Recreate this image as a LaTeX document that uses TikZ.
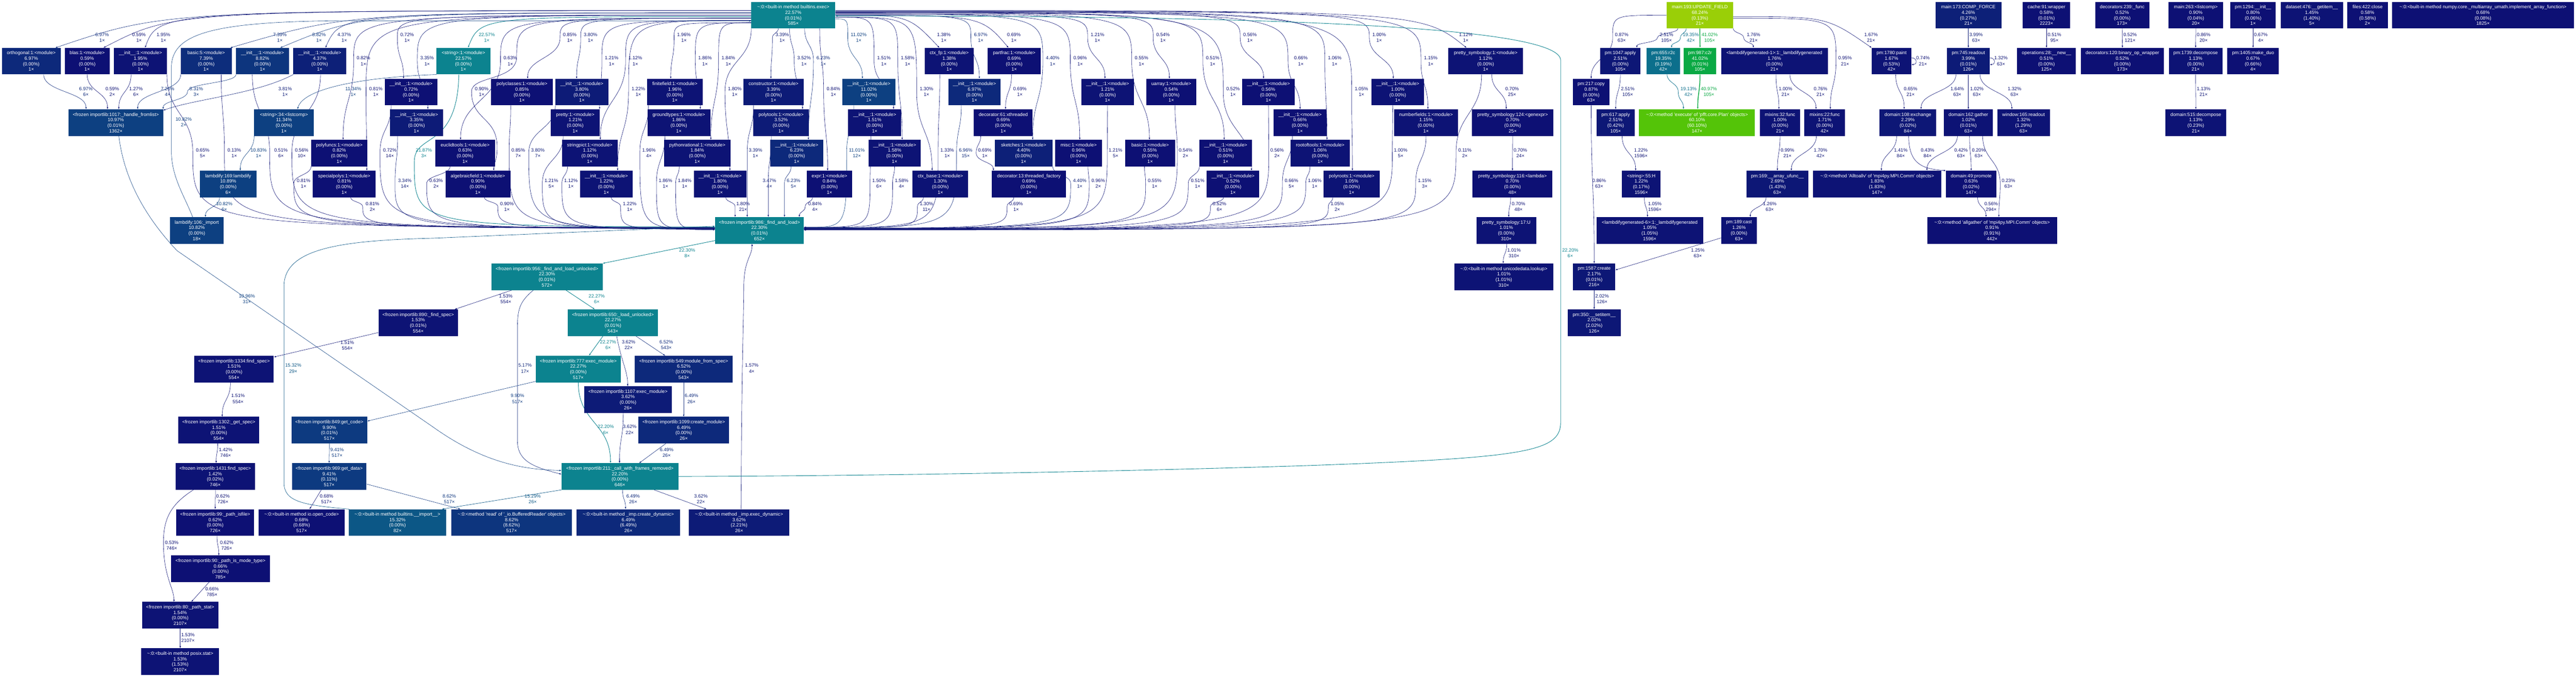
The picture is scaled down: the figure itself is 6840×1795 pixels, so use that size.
\documentclass[tikz,border=0pt]{standalone}
\usepackage{fontspec}
\newfontfamily\gv{Liberation Sans}
\usetikzlibrary{arrows.meta}
\pgfdeclarelayer{bg}\pgfdeclarelayer{edges}\pgfsetlayers{bg,edges,main}
\definecolor{c0}{HTML}{0D1074}
\definecolor{c1}{HTML}{0D1375}
\definecolor{c2}{HTML}{0D1776}
\definecolor{c3}{HTML}{0D1B77}
\definecolor{c4}{HTML}{0D2078}
\definecolor{c5}{HTML}{0D2479}
\definecolor{c6}{HTML}{0D297B}
\definecolor{c7}{HTML}{0D2D7C}
\definecolor{c8}{HTML}{0D357E}
\definecolor{c9}{HTML}{0D3A80}
\definecolor{c11}{HTML}{0D4081}
\definecolor{c15}{HTML}{0C5786}
\definecolor{c19}{HTML}{0C6F8C}
\definecolor{c22}{HTML}{0C838F}
\definecolor{c41}{HTML}{0AA944}
\definecolor{c60}{HTML}{54C408}
\definecolor{c68}{HTML}{9ACF07}
\tikzset{
 ed/.style={draw=#1,line width=.8pt,-{Latex[length=5.5pt,width=4pt]}},
 tl/.style={ed=c22,line width=1.2pt},
 nd/.style={rectangle,inner sep=0pt,minimum height=70.5pt,text=white,align=center,font=\gv\fontsize{12.6}{14.6}\selectfont},
 lbl/.style={inner sep=0pt,align=center,anchor=west,font=\gv\fontsize{12.6}{15.5}\selectfont},
}
\newcommand\tz{\textasciitilde:0:}
\newcommand\ini{\_\_init\_\_:1:<module>}
\newcommand\frz{<frozen importlib:}
\newcount\labn
\newcommand\Nd[9]{\node[nd,fill=#5,minimum width={(#3-#2)*1pt}] (#1) at ({(#2+#3)/2},{#4+35.25}) {#6\\#7\%\\(#8\%)\\#9×};}
\newcommand\lab[5]{\global\advance\labn by 1\relax\node[lbl,text=#1] (lb\the\labn) at (#2,#3) {#4\%\\#5×};}
% direct S edge
\newcommand\Ed[3]{\coordinate (s) at (#2); \coordinate (t) at (#3);
 \path (s) -- (t) coordinate[pos=.5] (m);
 \draw[#1] (#2) .. controls (s |- m) and (t |- m) .. (#3);}
% S edge through a waypoint
\newcommand\Ew[5]{\coordinate (s) at (#2); \coordinate (w) at (#3,#4); \coordinate (t) at (#5);
 \path (s) -- (w) coordinate[pos=.5] (m1);
 \path (w) -- (t) coordinate[pos=.5] (m2);
 \draw[#1] (#2) .. controls (s |- m1) and (w |- m1) .. (w) .. controls (w |- m2) and (t |- m2) .. (#5);}
% horizontal start, corner to waypoint, then S
\newcommand\Eh[5]{\coordinate (s) at (#2); \coordinate (w) at (#3,#4); \coordinate (t) at (#5);
 \path (w) -- (t) coordinate[pos=.5] (m2);
 \draw[#1] (#2) .. controls (w |- s) and (w |- s) .. (w) .. controls (w |- m2) and (t |- m2) .. (#5);}
% single swoop
\newcommand\Es[5]{\draw[#1] (#2) .. controls (#3,#4) and (#3,#4) .. (#5);}
% S to waypoint then corner into a side
\newcommand\Ef[5]{\coordinate (s) at (#2); \coordinate (w) at (#3,#4); \coordinate (t) at (#5);
 \path (s) -- (w) coordinate[pos=.5] (m1);
 \draw[#1] (#2) .. controls (s |- m1) and (w |- m1) .. (w) .. controls (w |- t) and (w |- t) .. (#5);}
\begin{document}
\begin{tikzpicture}[x=1pt,y=-1pt]
\begin{pgfonlayer}{bg}\fill[white] (0,0) rectangle (6840,1795);\end{pgfonlayer}
\useasboundingbox (0,0) rectangle (6840,1795);
% ---------- row 0
\Nd{exec}{1995}{2218}{5}{c22}{\tz<built-in method builtins.exec>}{22.57}{0.01}{585}
\Nd{upd}{4425}{4602}{5}{c68}{main:193:UPDATE\_FIELD}{68.24}{0.13}{21}
\Nd{comp}{5139}{5314}{5}{c4}{main:173:COMP\_FORCE}{4.26}{0.27}{21}
\Nd{cache}{5371}{5497}{5}{c0}{cache:91:wrapper}{0.58}{0.01}{2223}
\Nd{dfunc}{5563}{5707}{5}{c0}{decorators:239:\_func}{0.52}{0.00}{173}
\Nd{lcomp}{5758}{5903}{5}{c0}{main:263:<listcomp>}{0.90}{0.04}{20}
\Nd{pminit}{5922}{6043}{5}{c0}{pm:1294:\_\_init\_\_}{0.80}{0.06}{1}
\Nd{dset}{6056}{6221}{5}{c1}{dataset:476:\_\_getitem\_\_}{1.45}{1.40}{5}
\Nd{fclose}{6233}{6340}{5}{c0}{files:422:close}{0.58}{0.58}{2}
\Nd{iaf}{6352}{6834}{5}{c0}{\tz<built-in method numpy.core.\_multiarray\_umath.implement\_array\_function>}{0.68}{0.08}{1825}
% ---------- row 1
\Nd{ortho}{5}{161}{127}{c6}{orthogonal:1:<module>}{6.97}{0.00}{1}
\Nd{blas}{172}{291}{127}{c0}{blas:1:<module>}{0.59}{0.00}{1}
\Nd{ini195}{303}{443}{127}{c1}{\ini}{1.95}{0.00}{1}
\Nd{basic5}{480}{615}{127}{c7}{basic:5:<module>}{7.39}{0.00}{1}
\Nd{ini882}{627}{767}{127}{c8}{\ini}{8.82}{0.00}{1}
\Nd{ini437}{779}{919}{127}{c4}{\ini}{4.37}{0.00}{1}
\Nd{str1}{1159}{1302}{127}{c22}{<string>:1:<module>}{22.57}{0.00}{1}
\Nd{ctxfp}{2455}{2586}{127}{c1}{ctx\_fp:1:<module>}{1.38}{0.00}{1}
\Nd{partfrac}{2623}{2763}{127}{c0}{partfrac:1:<module>}{0.69}{0.00}{1}
\Nd{psym1}{3846}{4044}{127}{c1}{pretty\_symbology:1:<module>}{1.12}{0.00}{1}
\Nd{ap1047}{4249}{4356}{127}{c2}{pm:1047:apply}{2.51}{0.00}{105}
\Nd{r2c}{4372}{4461}{127}{c19}{pm:655:r2c}{19.35}{0.19}{42}
\Nd{c2r}{4471}{4557}{127}{c41}{pm:987:c2r}{41.02}{0.01}{105}
\Nd{lg1}{4570}{4853}{127}{c1}{<lambdifygenerated-1>:1:\_lambdifygenerated}{1.76}{0.00}{21}
\Nd{paint}{4970}{5075}{127}{c1}{pm:1780:paint}{1.67}{0.53}{42}
\Nd{readout}{5170}{5283}{127}{c3}{pm:745:readout}{3.99}{0.01}{126}
\Nd{opnew}{5356}{5512}{127}{c0}{operations:28:\_\_new\_\_}{0.51}{0.00}{125}
\Nd{bopw}{5525}{5746}{127}{c0}{decorators:120:binary\_op\_wrapper}{0.52}{0.00}{173}
\Nd{dec1739}{5759}{5901}{127}{c1}{pm:1739:decompose}{1.13}{0.00}{21}
\Nd{duo}{5914}{6051}{127}{c0}{pm:1405:make\_duo}{0.67}{0.66}{4}
% ---------- row 2
\Nd{ini072}{1022}{1161}{209}{c0}{\ini}{0.72}{0.00}{1}
\Nd{polycl}{1304}{1468}{209}{c0}{polyclasses:1:<module>}{0.85}{0.00}{1}
\Nd{ini380}{1475}{1615}{209}{c3}{\ini}{3.80}{0.00}{1}
\Nd{finf}{1718}{1866}{209}{c1}{finitefield:1:<module>}{1.96}{0.00}{1}
\Nd{constr}{1974}{2134}{209}{c3}{constructor:1:<module>}{3.39}{0.00}{1}
\Nd{ini1102}{2237}{2377}{209}{c11}{\ini}{11.02}{0.00}{1}
\Nd{ini697}{2518}{2657}{209}{c6}{\ini}{6.97}{0.00}{1}
\Nd{ini121b}{2871}{3011}{209}{c1}{\ini}{1.21}{0.00}{1}
\Nd{uarray}{3044}{3176}{209}{c0}{uarray:1:<module>}{0.54}{0.00}{1}
\Nd{ini056}{3298}{3438}{209}{c0}{\ini}{0.56}{0.00}{1}
\Nd{ini100}{3642}{3781}{209}{c1}{\ini}{1.00}{0.00}{1}
\Nd{copy217}{4176}{4274}{209}{c0}{pm:217:copy}{0.87}{0.00}{63}
% ---------- row 3
\Nd{hfl}{182}{433}{290}{c11}{\frz1017:\_handle\_fromlist>}{10.97}{0.01}{1362}
\Nd{lc34}{675}{833}{290}{c11}{<string>:34:<listcomp>}{11.34}{0.00}{1}
\Nd{ini335}{1036}{1176}{290}{c3}{\ini}{3.35}{0.00}{1}
\Nd{pretty}{1463}{1592}{290}{c1}{pretty:1:<module>}{1.21}{0.00}{1}
\Nd{groundt}{1719}{1886}{290}{c1}{groundtypes:1:<module>}{1.86}{0.00}{1}
\Nd{polyt}{2000}{2148}{290}{c3}{polytools:1:<module>}{3.52}{0.00}{1}
\Nd{ini151}{2252}{2393}{290}{c1}{\ini}{1.51}{0.00}{1}
\Nd{xthr}{2586}{2742}{290}{c0}{decorator:61:xthreaded}{0.69}{0.00}{1}
\Nd{ini066}{3382}{3522}{290}{c0}{\ini}{0.66}{0.00}{1}
\Nd{numf}{3702}{3871}{290}{c1}{numberfields:1:<module>}{1.15}{0.00}{1}
\Nd{genx}{3908}{4125}{290}{c0}{pretty\_symbology:124:<genexpr>}{0.70}{0.00}{25}
\Nd{ap617}{4240}{4340}{290}{c2}{pm:617:apply}{2.51}{0.42}{105}
\Nd{execute}{4352}{4660}{290}{c60}{\tz<method 'execute' of 'pfft.core.Plan' objects>}{60.10}{60.10}{147}
\Nd{mix32}{4673}{4780}{290}{c1}{mixins:32:func}{1.00}{0.00}{21}
\Nd{mix22}{4791}{4899}{290}{c1}{mixins:22:func}{1.71}{0.00}{42}
\Nd{exch}{4991}{5141}{290}{c2}{domain:108:exchange}{2.29}{0.02}{84}
\Nd{gath}{5162}{5291}{290}{c1}{domain:162:gather}{1.02}{0.01}{63}
\Nd{win}{5303}{5443}{290}{c1}{window:165:readout}{1.32}{1.29}{63}
\Nd{d515}{5750}{5911}{290}{c1}{domain:515:decompose}{1.13}{0.23}{21}
% ---------- row 4
\Nd{polyf}{826}{976}{371}{c0}{polyfuncs:1:<module>}{0.82}{0.00}{1}
\Nd{eucl}{1156}{1314}{371}{c0}{euclidtools:1:<module>}{0.63}{0.00}{1}
\Nd{strp}{1492}{1640}{371}{c1}{stringpict:1:<module>}{1.12}{0.00}{1}
\Nd{pyrat}{1763}{1940}{371}{c1}{pythonrational:1:<module>}{1.84}{0.00}{1}
\Nd{ini623}{2045}{2186}{371}{c6}{\ini}{6.23}{0.00}{1}
\Nd{ini158}{2306}{2445}{371}{c1}{\ini}{1.58}{0.00}{1}
\Nd{sketch}{2641}{2795}{371}{c4}{sketches:1:<module>}{4.40}{0.00}{1}
\Nd{misc}{2802}{2926}{371}{c0}{misc:1:<module>}{0.96}{0.00}{1}
\Nd{basic1}{2987}{3121}{371}{c0}{basic:1:<module>}{0.55}{0.00}{1}
\Nd{ini051}{3185}{3324}{371}{c0}{\ini}{0.51}{0.00}{1}
\Nd{rootof}{3427}{3584}{371}{c1}{rootoftools:1:<module>}{1.06}{0.00}{1}
% ---------- row 5
\Nd{lamb169}{531}{681}{453}{c11}{lambdify:169:lambdify}{10.89}{0.00}{6}
\Nd{spoly}{831}{997}{453}{c0}{specialpolys:1:<module>}{0.81}{0.00}{1}
\Nd{algf}{1183}{1355}{453}{c0}{algebraicfield:1:<module>}{0.90}{0.00}{1}
\Nd{ini122}{1540}{1680}{453}{c1}{\ini}{1.22}{0.00}{1}
\Nd{ini180}{1842}{1982}{453}{c1}{\ini}{1.80}{0.00}{1}
\Nd{expr}{2142}{2263}{453}{c0}{expr:1:<module>}{0.84}{0.00}{1}
\Nd{ctxb}{2423}{2571}{453}{c1}{ctx\_base:1:<module>}{1.30}{0.00}{1}
\Nd{thrf}{2634}{2830}{453}{c0}{decorator:13:threaded\_factory}{0.69}{0.00}{1}
\Nd{ini052}{3204}{3344}{453}{c0}{\ini}{0.52}{0.00}{1}
\Nd{proots}{3515}{3663}{453}{c1}{polyroots:1:<module>}{1.05}{0.00}{1}
\Nd{lam116}{3910}{4122}{453}{c0}{pretty\_symbology:116:<lambda>}{0.70}{0.00}{48}
\Nd{strH}{4307}{4409}{453}{c1}{<string>:55:H}{1.22}{0.17}{1596}
\Nd{ufunc}{4637}{4802}{453}{c2}{pm:169:\_\_array\_ufunc\_\_}{2.69}{1.43}{63}
\Nd{a2a}{4814}{5155}{453}{c1}{\tz<method 'Alltoallv' of 'mpi4py.MPI.Comm' objects>}{1.83}{1.83}{147}
\Nd{promote}{5167}{5301}{453}{c0}{domain:49:promote}{0.63}{0.02}{147}
% ---------- row 6
\Nd{imp106}{451}{594}{576}{c11}{lambdify:106:\_import}{10.82}{0.00}{18}
\Nd{fal}{1899}{2134}{576}{c22}{\frz986:\_find\_and\_load>}{22.30}{0.01}{652}
\Nd{symU}{3920}{4079}{576}{c1}{pretty\_symbology:17:U}{1.01}{0.00}{310}
\Nd{lg6}{4239}{4522}{576}{c1}{<lambdifygenerated-6>:1:\_lambdifygenerated}{1.05}{1.05}{1596}
\Nd{cast}{4570}{4665}{576}{c1}{pm:189:cast}{1.26}{0.00}{63}
\Nd{allg}{5117}{5462}{576}{c0}{\tz<method 'allgather' of 'mpi4py.MPI.Comm' objects>}{0.91}{0.91}{442}
% ---------- lower rows
\Nd{falu}{1305}{1600}{699}{c22}{\frz956:\_find\_and\_load\_unlocked>}{22.30}{0.01}{572}
\Nd{ulook}{3862}{4124}{699}{c1}{\tz<built-in method unicodedata.lookup>}{1.01}{1.01}{310}
\Nd{create}{4177}{4289}{699}{c2}{pm:1587:create}{2.17}{0.01}{216}
\Nd{fs890}{1005}{1216}{821}{c1}{\frz890:\_find\_spec>}{1.53}{0.01}{554}
\Nd{lunl}{1508}{1747}{821}{c22}{\frz650:\_load\_unlocked>}{22.27}{0.01}{543}
\Nd{setitem}{4163}{4303}{821}{c2}{pm:350:\_\_setitem\_\_}{2.02}{2.02}{126}
\Nd{fs1334}{516}{727}{944}{c1}{\frz1334:find\_spec>}{1.51}{0.00}{554}
\Nd{em777}{1423}{1648}{944}{c22}{\frz777:exec\_module>}{22.27}{0.00}{517}
\Nd{mfs}{1686}{1945}{944}{c6}{\frz549:module\_from\_spec>}{6.52}{0.00}{543}
\Nd{em1107}{1551}{1784}{1025}{c3}{\frz1107:exec\_module>}{3.62}{0.00}{26}
\Nd{gs1302}{474}{688}{1106}{c1}{\frz1302:\_get\_spec>}{1.51}{0.00}{554}
\Nd{gc849}{774}{975}{1106}{c9}{\frz849:get\_code>}{9.90}{0.01}{517}
\Nd{cm1099}{1695}{1936}{1106}{c6}{\frz1099:create\_module>}{6.49}{0.00}{26}
\Nd{fs1431}{466}{677}{1229}{c1}{\frz1431:find\_spec>}{1.42}{0.02}{746}
\Nd{gd969}{775}{973}{1229}{c9}{\frz969:get\_data>}{9.41}{0.11}{517}
\Nd{cwfr}{1491}{1801}{1229}{c22}{\frz211:\_call\_with\_frames\_removed>}{22.20}{0.00}{646}
\Nd{isf99}{468}{675}{1351}{c0}{\frz99:\_path\_isfile>}{0.62}{0.00}{726}
\Nd{ioopen}{687}{915}{1351}{c0}{\tz<built-in method io.open\_code>}{0.68}{0.68}{517}
\Nd{bimp}{926}{1185}{1351}{c15}{\tz<built-in method builtins.\_\_import\_\_>}{15.32}{0.00}{82}
\Nd{bread}{1198}{1519}{1351}{c8}{\tz<method 'read' of '\_io.BufferedReader' objects>}{8.62}{8.62}{517}
\Nd{cdyn}{1531}{1806}{1351}{c6}{\tz<built-in method \_imp.create\_dynamic>}{6.49}{6.49}{26}
\Nd{edyn}{1829}{2096}{1351}{c3}{\tz<built-in method \_imp.exec\_dynamic>}{3.62}{2.21}{26}
\Nd{imt90}{454}{717}{1474}{c0}{\frz90:\_path\_is\_mode\_type>}{0.66}{0.00}{785}
\Nd{pst80}{377}{580}{1597}{c1}{\frz80:\_path\_stat>}{1.54}{0.00}{2107}
\Nd{pstat}{375}{582}{1720}{c1}{\tz<built-in method posix.stat>}{1.53}{1.53}{2107}

\begin{pgfonlayer}{edges}
% exec fan, left
\Es{ed=c6}{[yshift=12]exec.west}{440}{28}{[xshift=64]ortho.north}
\Es{ed=c0}{[yshift=12]exec.west}{466}{28}{[xshift=43]blas.north}
\Es{ed=c1}{[yshift=12]exec.west}{422}{28}{[xshift=12]ini195.north}
\Es{ed=c7}{[yshift=6]exec.west}{930}{34}{[xshift=64]basic5.north}
\Es{ed=c8}{[yshift=6]exec.west}{967}{34}{[xshift=47]ini882.north}
\Es{ed=c4}{[yshift=6]exec.west}{906}{34}{[xshift=15]ini437.north}
\Es{tl}{[yshift=-4]exec.west}{1276}{44}{[xshift=12]str1.north}
\Eh{ed=c0}{exec.west}{1055}{100}{[xshift=-20]ini072.north}
\Eh{ed=c0}{exec.west}{939}{162}{[xshift=10]polyf.north}
\Eh{ed=c3}{exec.west}{1108}{162}{[xshift=30]ini335.north}
\Eh{ed=c0}{exec.west}{972}{243}{[xshift=60]spoly.north}
\Eh{ed=c0}{[yshift=-8]exec.west}{1487}{100}{[xshift=15]polycl.north}
\Eh{ed=c3}{[yshift=-8]exec.west}{1542}{100}{[xshift=-14]ini380.north}
\Eh{ed=c0}{[yshift=-8]exec.west}{1329}{162}{[xshift=-12]eucl.north}
\draw[ed=c0] ([yshift=-8]exec.west) .. controls (1372,48) and (1372,48) .. (1372,150) .. controls (1372,215) and (1252,200) .. (1252,243) .. controls (1252,320) and (1320,310) .. (1320,390) .. controls (1320,430) and (1311,430) .. ([xshift=42]algf.north);
\Eh{ed=c1}{[yshift=-14]exec.west}{1598}{162}{pretty.north east}
\Eh{ed=c1}{[yshift=-14]exec.west}{1661}{162}{[xshift=28]strp.north}
\Eh{ed=c1}{[yshift=-14]exec.west}{1669}{243}{[xshift=30]ini122.north}
\Eh{ed=c1}{[yshift=-20]exec.west}{1790}{100}{[xshift=-11]finf.north}
\Eh{ed=c1}{[yshift=-20]exec.west}{1846}{162}{[xshift=57]groundt.north}
\Eh{ed=c1}{[yshift=-20]exec.west}{1908}{162}{[xshift=36]pyrat.north}
\Ew{ed=c1}{exec.south west}{1925}{243}{[xshift=26]ini180.north}
\Ew{ed=c3}{[xshift=-40]exec.south}{2051}{100}{[xshift=-7]constr.north}
\Ew{ed=c3}{[xshift=-10]exec.south}{2109}{162}{[xshift=57]polyt.north}
\Ew{ed=c6}{[xshift=30]exec.south}{2160}{162}{[xshift=31]ini623.north}
\Ew{ed=c0}{[xshift=70]exec.south}{2187}{243}{[xshift=-5]expr.north}
% exec fan, right
\Eh{ed=c11}{[yshift=-10]exec.east}{2251}{100}{[xshift=-17]ini1102.north}
\Eh{ed=c1}{[yshift=-5]exec.east}{2321}{162}{[xshift=50]ini151.north}
\Eh{ed=c1}{[yshift=-5]exec.east}{2384}{162}{[xshift=20]ini158.north}
\Eh{ed=c1}{[yshift=-5]exec.east}{2434}{243}{[xshift=-22]ctxb.north}
\Es{ed=c1}{exec.east}{2412}{40}{[xshift=-26]ctxfp.north}
\Eh{ed=c6}{exec.east}{2578}{100}{[xshift=13]ini697.north}
\Es{ed=c0}{exec.east}{2604}{40}{[xshift=-15]partfrac.north}
\Eh{ed=c4}{[yshift=3]exec.east}{2769}{162}{[xshift=24]sketch.north}
\Eh{ed=c0}{[yshift=3]exec.east}{2842}{162}{[xshift=3]misc.north}
\Eh{ed=c1}{[yshift=3]exec.east}{2888}{100}{[xshift=-7]ini121b.north}
\Eh{ed=c0}{[yshift=6]exec.east}{3005}{162}{[xshift=-2]basic1.north}
\Eh{ed=c0}{[yshift=6]exec.east}{3062}{100}{[xshift=-5]uarray.north}
\Eh{ed=c0}{[yshift=6]exec.east}{3194}{162}{[xshift=-4]ini051.north}
\Eh{ed=c0}{[yshift=8]exec.east}{3248}{243}{[xshift=49]ini052.north}
\Eh{ed=c0}{[yshift=8]exec.east}{3293}{100}{[xshift=-13]ini056.north}
\Eh{ed=c0}{[yshift=8]exec.east}{3420}{162}{ini066.north}
\Eh{ed=c1}{[yshift=10]exec.east}{3518}{162}{[xshift=18]rootof.north}
\Eh{ed=c1}{[yshift=10]exec.east}{3589}{243}{[xshift=2]proots.north}
\Eh{ed=c1}{[yshift=10]exec.east}{3636}{100}{[xshift=-12]ini100.north}
\Eh{ed=c1}{[yshift=12]exec.east}{3773}{162}{[xshift=5]numf.north}
\Es{ed=c1}{[yshift=12]exec.east}{3771}{28}{[xshift=-51]psym1.north}
% into handle_fromlist, listcomp, lambdify
\Ed{ed=c6}{[xshift=33]ortho.south}{[xshift=-79]hfl.north}
\Ed{ed=c0}{blas.south}{[xshift=-22]hfl.north}
\Ed{ed=c1}{[xshift=-25]ini195.south}{[xshift=8]hfl.north}
\Ed{ed=c7}{basic5.south west}{[xshift=58]hfl.north}
\Ew{ed=c8}{ini882.south west}{498}{243}{hfl.north east}
\draw[ed=c4] (ini437.south west) .. controls (680,250) and (520,262) .. ([yshift=-3]hfl.north east);
\draw[ed=c11] (str1.south west) .. controls (960,205) and (805,235) .. ([xshift=36]lc34.north);
\Ed{ed=c11}{lc34.south west}{[xshift=32]lamb169.north}
\Ed{ed=c11}{[xshift=-23]lamb169.south}{[xshift=23]imp106.north}
\draw[ed=c11] ([xshift=-11]imp106.north) .. controls (490,520) and (455,470) .. (455,400) -- (455,180) .. controls (455,90) and (560,58) .. (900,55) -- ([yshift=-15]exec.west);
% into find_and_load from the left
\Ef{ed=c0}{ini195.south east}{512}{406}{[yshift=8]fal.west}
\Ef{ed=c0}{[xshift=40]basic5.south}{596}{406}{[yshift=8]fal.west}
\Ef{ed=c0}{[xshift=-27]ini882.south}{716}{406}{[yshift=7]fal.west}
\Ef{ed=c0}{[xshift=2]ini437.south}{775}{406}{[yshift=7]fal.west}
\Ef{ed=c0}{[xshift=-53]ini072.south}{1009}{406}{[yshift=6]fal.west}
\Ef{ed=c3}{[xshift=-50]ini335.south}{1049}{487}{[yshift=6]fal.west}
\Ef{ed=c0}{polyf.south west}{780}{487}{[yshift=7]fal.west}
\Ef{ed=c0}{[xshift=17]spoly.south}{963}{548}{[yshift=6]fal.west}
\draw[tl] ([xshift=-12]str1.south) .. controls (1214,400) and (1100,350) .. (1100,430) .. controls (1100,600) and (1100,600) .. ([yshift=9]fal.west);
\Ef{ed=c0}{[xshift=-40]eucl.south}{1133}{487}{[yshift=5]fal.west}
\Ef{ed=c0}{[xshift=17]algf.south}{1322}{548}{[yshift=5]fal.west}
\Ef{ed=c0}{[xshift=-30]polycl.south}{1352}{406}{[yshift=5]fal.west}
\Ef{ed=c3}{ini380.south west}{1404}{406}{[yshift=5]fal.west}
\Ef{ed=c1}{[xshift=-32]pretty.south}{1440}{487}{[yshift=4]fal.west}
\Ef{ed=c1}{[xshift=-59]strp.south}{1492}{487}{[yshift=4]fal.west}
\Ef{ed=c1}{[xshift=13]ini122.south}{1648}{548}{[yshift=3]fal.west}
\Ef{ed=c1}{[xshift=-70]finf.south}{1699}{406}{[yshift=3]fal.west}
\Ef{ed=c1}{[xshift=-37]groundt.south}{1743}{487}{[yshift=2]fal.west}
\Ef{ed=c1}{[xshift=-48]pyrat.south}{1794}{487}{[yshift=2]fal.west}
\Ew{ed=c1}{[xshift=15]ini180.south}{1952}{548}{[xshift=-64.5]fal.north}
\Ew{ed=c3}{[xshift=-53]constr.south}{1984}{406}{[xshift=-32.5]fal.north}
\Ew{ed=c3}{[xshift=-26]polyt.south}{2040}{487}{[xshift=23.5]fal.north}
\Ew{ed=c6}{[xshift=-15]ini623.south}{2083}{487}{[xshift=66.5]fal.north}
\Ew{ed=c0}{[xshift=-45]expr.south}{2138}{548}{[xshift=106]fal.north}
% into find_and_load from the right
\Ef{ed=c11}{[xshift=-40]ini1102.south}{2248}{406}{[yshift=8]fal.east}
\Ef{ed=c1}{[xshift=-10]ini151.south}{2310}{487}{[yshift=8]fal.east}
\Ef{ed=c1}{ini158.south}{2370}{487}{[yshift=8]fal.east}
\Ef{ed=c1}{[xshift=-25]ctxfp.south}{2491}{406}{[yshift=7]fal.east}
\Ef{ed=c6}{[xshift=-35]ini697.south}{2540}{406}{[yshift=7]fal.east}
\Ef{ed=c1}{[xshift=-45]ctxb.south}{2436}{548}{[yshift=6]fal.east}
\Ef{ed=c0}{[xshift=-40]thrf.south}{2674}{548}{[yshift=6]fal.east}
\Ef{ed=c4}{sketch.south east}{2843}{487}{[yshift=6]fal.east}
\Ef{ed=c0}{[xshift=25]misc.south}{2892}{487}{[yshift=5]fal.east}
\Ef{ed=c1}{ini121b.south}{2940}{406}{[yshift=5]fal.east}
\Ef{ed=c0}{[xshift=-15]basic1.south}{3042}{487}{[yshift=5]fal.east}
\Ef{ed=c0}{[xshift=10]uarray.south}{3126}{406}{[yshift=4]fal.east}
\Ef{ed=c0}{ini051.south west}{3155}{487}{[yshift=4]fal.east}
\Ef{ed=c0}{[xshift=-25]ini052.south}{3214}{548}{[yshift=4]fal.east}
\Ef{ed=c0}{ini056.south}{3369}{406}{[yshift=3]fal.east}
\Ef{ed=c0}{[xshift=-20]ini066.south}{3405}{487}{[yshift=3]fal.east}
\Ef{ed=c1}{[xshift=-27]rootof.south}{3467}{487}{[yshift=3]fal.east}
\Ef{ed=c1}{[xshift=-50]proots.south}{3527}{548}{[yshift=2]fal.east}
\Ef{ed=c1}{[xshift=-13]ini100.south}{3697}{406}{[yshift=2]fal.east}
\Ef{ed=c1}{numf.south}{3759}{487}{[yshift=2]fal.east}
\Ef{ed=c0}{[xshift=-11]psym1.south}{3866}{406}{[yshift=1]fal.east}
% decorator chain
\Ed{ed=c0}{[xshift=-7]partfrac.south}{[xshift=6]xthr.north}
\Ew{ed=c0}{[xshift=-60]xthr.south}{2592}{406}{[xshift=4]thrf.north west}
% import machinery
\draw[tl] ([yshift=-27]fal.west) -- (falu.north east);
\draw[ed=c1] ([xshift=-93]falu.south) -- ([xshift=-9]fs890.north east);
\draw[tl] ([xshift=50]falu.south) -- ([xshift=-48]lunl.north);
\draw[ed=c5] ([xshift=-36]falu.south) .. controls (1380,800) and (1374,820) .. (1374,870) -- (1374,1170) .. controls (1374,1225) and (1420,1240) .. ([yshift=6]cwfr.west);
\draw[tl] ([xshift=-26.5]lunl.south) -- ([xshift=28]em777.north);
\draw[ed=c3] ([xshift=10]lunl.south) .. controls (1650,960) and (1667,985) .. ([xshift=-1]em1107.north);
\draw[ed=c6] ([xshift=61]lunl.south) -- ([xshift=-49]mfs.north);
\draw[ed=c9] ([yshift=3]em777.south west) -- ([yshift=24]gc849.east);
\Ed{ed=c6}{mfs.south}{cm1099.north}
\Ed{tl}{em777.south}{[xshift=-25]cwfr.north}
\Ed{ed=c3}{[xshift=-12.5]em1107.south}{[xshift=-1]cwfr.north}
\draw[ed=c6] ([xshift=-47.5]cm1099.south) -- ([xshift=51]cwfr.north);
\draw[ed=c15,line width=.9pt] (cwfr.south west) -- ([xshift=-12]bimp.north east);
\Ed{ed=c6}{[xshift=7]cwfr.south}{[xshift=-7.5]cdyn.north}
\draw[ed=c3] ([xshift=91]cwfr.south) -- ([xshift=-86.5]edyn.north);
\draw[ed=c1] ([xshift=5]edyn.north) .. controls (1970,900) and (1975,850) .. (1975,760) .. controls (1975,690) and (1997,680) .. ([xshift=-19.5]fal.south);
\draw[ed=c15,line width=.9pt] ([xshift=2]bimp.north west) .. controls (800,1340) and (754,1330) .. (754,1280) -- (754,760) .. controls (754,660) and (900,638) .. (1150,632) -- ([yshift=11]fal.west);
\draw[ed=c11] ([xshift=8]hfl.south) .. controls (330,480) and (390,580) .. (470,665) -- (1150,1133) .. controls (1290,1233) and (1400,1246) .. ([yshift=16]cwfr.west);
\draw[ed=c1] ([yshift=-26]fs890.west) -- ([yshift=32]fs1334.east);
\Ed{ed=c1}{[xshift=-9.5]fs1334.south}{[xshift=9]gs1302.north}
\Ed{ed=c1}{[xshift=-3]gs1302.south}{[xshift=2.5]fs1431.north}
\Ed{ed=c9}{gc849.south}{gd969.north}
\Ed{ed=c0}{[xshift=0.5]fs1431.south}{isf99.north}
\draw[ed=c0] ([xshift=-21]gd969.south) -- ([xshift=21]ioopen.north);
\draw[ed=c8] ([yshift=-20]gd969.east) -- ([xshift=25]bread.north west);
\draw[ed=c0] ([xshift=-58]fs1431.south) .. controls (450,1340) and (434,1380) .. (434,1440) .. controls (434,1530) and (462,1560) .. ([xshift=-16.5]pst80.north);
\Ed{ed=c0}{[xshift=4.5]isf99.south}{[xshift=-4.5]imt90.north}
\draw[ed=c0] ([xshift=-30.5]imt90.south) -- ([xshift=29.5]pst80.north);
\Ed{ed=c1}{pst80.south}{pstat.north}
\draw[tl] (cwfr.east) .. controls (2400,1262) and (3000,1250) .. (3450,1236) .. controls (4050,1215) and (4144,1200) .. (4144,1120) -- (4144,160) .. controls (4144,60) and (3200,42) .. ([yshift=-2]exec.east);
% main:193 and the right-hand side
\Eh{ed=c0}{upd.west}{4282}{100}{copy217.north}
\Ew{ed=c2}{[xshift=-58]upd.south}{4401}{100}{[xshift=-10]ap1047.north east}
\Ew{ed=c19,line width=1pt}{[xshift=-36]upd.south}{4462}{100}{[xshift=22]r2c.north}
\Ed{ed=c41,line width=2pt}{upd.south}{c2r.north}
\Ew{ed=c1}{upd.south east}{4630}{100}{[xshift=-56]lg1.north}
\Eh{ed=c0}{[yshift=-8]upd.east}{4875}{162}{[xshift=15]mix22.north}
\Es{ed=c1}{[yshift=-4]upd.east}{4850}{44}{paint.north west}
\Ew{ed=c19,line width=1pt}{[xshift=10]r2c.south}{4456}{243}{[xshift=-36]execute.north}
\Ed{ed=c41,line width=2pt}{c2r.south}{[xshift=2]execute.north}
\Ed{ed=c2}{ap1047.south}{ap617.north}
\Ed{ed=c1}{[xshift=17]ap617.south}{[xshift=-15]strH.north}
\Ed{ed=c1}{[xshift=8]strH.south}{[xshift=-6]lg6.north}
\Ed{ed=c0}{copy217.south}{create.north}
\draw[ed=c1] ([yshift=-20]cast.west) -- ([yshift=18]create.east);
\Ed{ed=c2}{create.south}{setitem.north}
\Ed{ed=c1}{[xshift=1.5]symU.south}{[xshift=-1.5]ulook.north}
\Ed{ed=c0}{[xshift=-5]lam116.south}{[xshift=6.5]symU.north}
\Ed{ed=c0}{genx.south}{lam116.north}
\Ed{ed=c0}{[xshift=16]psym1.south}{[xshift=-17]genx.north}
\Ed{ed=c1}{[xshift=4]lg1.south}{[xshift=-3]mix32.north}
\Ed{ed=c0}{[xshift=41]lg1.south}{[xshift=-23]mix22.north}
\Ed{ed=c0}{mix32.south}{ufunc.north}
\Ed{ed=c1}{[xshift=-22]mix22.south}{[xshift=37]ufunc.north}
\Ed{ed=c1}{[xshift=-30]ufunc.south}{[xshift=30]cast.north}
\draw[ed=c0] ([yshift=9]paint.east) .. controls +(16,0) and +(16,0) .. ([yshift=-9]paint.east);
\Ed{ed=c0}{[xshift=11]paint.south}{[xshift=-10]exch.north}
\Ed{ed=c3}{comp.south}{readout.north}
\draw[ed=c1] ([yshift=9]readout.east) .. controls +(16,0) and +(16,0) .. ([yshift=-9]readout.east);
\Ed{ed=c1}{[xshift=-33]readout.south}{[xshift=35]exch.north}
\Ed{ed=c1}{readout.south}{gath.north}
\Ed{ed=c1}{[xshift=31]readout.south}{[xshift=-31]win.north}
\Ed{ed=c1}{[xshift=-30]exch.south}{[xshift=11]a2a.north}
\draw[ed=c0] ([xshift=2]exch.south) .. controls (5068,440) and (5110,448) .. (promote.north west);
\Ed{ed=c0}{[xshift=-29]gath.south}{[xshift=132]a2a.north}
\Ed{ed=c0}{[xshift=3]gath.south}{promote.north}
\Ew{ed=c0}{[xshift=38]gath.south}{5311}{487}{[xshift=18]allg.north}
\Ed{ed=c0}{[xshift=17]promote.south}{[xshift=-16]allg.north}
\Ed{ed=c0}{cache.south}{opnew.north}
\Ed{ed=c0}{dfunc.south}{bopw.north}
\Ed{ed=c0}{lcomp.south}{dec1739.north}
\Ed{ed=c0}{pminit.south}{duo.north}
\Ed{ed=c1}{dec1739.south}{d515.north}
\end{pgfonlayer}

% ---------- edge labels
\lab{c6}{253}{100}{6.97}{1}
\lab{c0}{351}{100}{0.59}{1}
\lab{c1}{416}{100}{1.95}{1}
\lab{c7}{725}{100}{7.39}{1}
\lab{c8}{829}{100}{8.82}{1}
\lab{c4}{896}{100}{4.37}{1}
\lab{c0}{1063}{100}{0.72}{1}
\lab{c0}{947}{162}{0.82}{1}
\lab{c3}{1116}{162}{3.35}{1}
\lab{c0}{980}{243}{0.81}{1}
\lab{c22}{1271}{100}{22.57}{1}
\lab{c0}{1495}{100}{0.85}{1}
\lab{c3}{1550}{100}{3.80}{1}
\lab{c0}{1337}{162}{0.63}{1}
\lab{c0}{1261}{243}{0.90}{1}
\lab{c1}{1606}{162}{1.21}{1}
\lab{c1}{1669}{162}{1.12}{1}
\lab{c1}{1677}{243}{1.22}{1}
\lab{c1}{1798}{100}{1.96}{1}
\lab{c1}{1854}{162}{1.86}{1}
\lab{c1}{1916}{162}{1.84}{1}
\lab{c1}{1933}{243}{1.80}{1}
\lab{c3}{2059}{100}{3.39}{1}
\lab{c3}{2117}{162}{3.52}{1}
\lab{c6}{2168}{162}{6.23}{1}
\lab{c0}{2195}{243}{0.84}{1}
\lab{c11}{2259}{100}{11.02}{1}
\lab{c1}{2329}{162}{1.51}{1}
\lab{c1}{2392}{162}{1.58}{1}
\lab{c1}{2442}{243}{1.30}{1}
\lab{c1}{2488}{100}{1.38}{1}
\lab{c6}{2586}{100}{6.97}{1}
\lab{c0}{2674}{100}{0.69}{1}
\lab{c4}{2777}{162}{4.40}{1}
\lab{c0}{2850}{162}{0.96}{1}
\lab{c1}{2896}{100}{1.21}{1}
\lab{c0}{3013}{162}{0.55}{1}
\lab{c0}{3070}{100}{0.54}{1}
\lab{c0}{3202}{162}{0.51}{1}
\lab{c0}{3256}{243}{0.52}{1}
\lab{c0}{3301}{100}{0.56}{1}
\lab{c0}{3436}{162}{0.66}{1}
\lab{c1}{3526}{162}{1.06}{1}
\lab{c1}{3597}{243}{1.05}{1}
\lab{c1}{3644}{100}{1.00}{1}
\lab{c1}{3781}{162}{1.15}{1}
\lab{c1}{3874}{100}{1.12}{1}
\lab{c6}{210}{243}{6.97}{6}
\lab{c0}{280}{243}{0.59}{2}
\lab{c1}{343}{243}{1.27}{6}
\lab{c7}{427}{243}{7.26}{4}
\lab{c8}{503}{243}{8.31}{3}
\lab{c3}{739}{243}{3.81}{1}
\lab{c11}{917}{243}{11.34}{1}
\lab{c11}{466}{324}{10.82}{2}
\lab{c11}{665}{406}{10.83}{1}
\lab{c11}{574}{548}{10.82}{6}
\lab{c0}{520}{406}{0.65}{5}
\lab{c0}{604}{406}{0.13}{1}
\lab{c0}{728}{406}{0.51}{6}
\lab{c0}{783}{406}{0.56}{10}
\lab{c0}{1017}{406}{0.72}{14}
\lab{c22}{1104}{406}{21.87}{3}
\lab{c3}{1057}{487}{3.34}{14}
\lab{c0}{788}{487}{0.81}{1}
\lab{c0}{971}{548}{0.81}{2}
\lab{c0}{1140}{487}{0.63}{2}
\lab{c0}{1328}{548}{0.90}{1}
\lab{c0}{1358}{406}{0.85}{7}
\lab{c3}{1410}{406}{3.80}{7}
\lab{c1}{1446}{487}{1.21}{5}
\lab{c1}{1498}{487}{1.12}{1}
\lab{c1}{1654}{548}{1.22}{1}
\lab{c1}{1705}{406}{1.96}{4}
\lab{c1}{1749}{487}{1.86}{1}
\lab{c1}{1800}{487}{1.84}{1}
\lab{c1}{1955}{548}{1.80}{21}
\lab{c3}{1988}{406}{3.39}{1}
\lab{c3}{2025}{487}{3.47}{4}
\lab{c6}{2089}{487}{6.23}{5}
\lab{c0}{2146}{548}{0.84}{4}
\lab{c11}{2254}{406}{11.01}{12}
\lab{c1}{2316}{487}{1.50}{6}
\lab{c1}{2376}{487}{1.58}{4}
\lab{c1}{2497}{406}{1.33}{1}
\lab{c6}{2546}{406}{6.96}{15}
\lab{c0}{2690}{243}{0.69}{1}
\lab{c0}{2597}{406}{0.69}{1}
\lab{c1}{2442}{548}{1.30}{11}
\lab{c0}{2680}{548}{0.69}{1}
\lab{c4}{2849}{487}{4.40}{1}
\lab{c0}{2898}{487}{0.96}{2}
\lab{c1}{2944}{406}{1.21}{5}
\lab{c0}{3048}{487}{0.55}{1}
\lab{c0}{3130}{406}{0.54}{2}
\lab{c0}{3162}{487}{0.51}{1}
\lab{c0}{3220}{548}{0.52}{6}
\lab{c0}{3373}{406}{0.56}{2}
\lab{c0}{3411}{487}{0.66}{5}
\lab{c1}{3473}{487}{1.06}{1}
\lab{c1}{3533}{548}{1.05}{2}
\lab{c1}{3701}{406}{1.00}{5}
\lab{c1}{3765}{487}{1.15}{3}
\lab{c0}{3872}{406}{0.11}{2}
\lab{c0}{4288}{100}{0.87}{63}
\lab{c2}{4407}{100}{2.51}{105}
\lab{c19}{4468}{100}{19.35}{42}
\lab{c41}{4518}{100}{41.02}{105}
\lab{c1}{4638}{100}{1.76}{21}
\lab{c0}{4881}{162}{0.95}{21}
\lab{c1}{4950}{100}{1.67}{21}
\lab{c2}{4304}{243}{2.51}{105}
\lab{c19}{4462}{243}{19.13}{42}
\lab{c41}{4516}{243}{40.97}{105}
\lab{c1}{4339}{406}{1.22}{1596}
\lab{c1}{4376}{548}{1.05}{1596}
\lab{c0}{4228}{487}{0.86}{63}
\lab{c1}{4490}{671}{1.25}{63}
\lab{c2}{4236}{793}{2.02}{126}
\lab{c1}{4002}{671}{1.01}{310}
\lab{c0}{4014}{548}{0.70}{48}
\lab{c0}{4019}{406}{0.70}{24}
\lab{c0}{3997}{243}{0.70}{25}
\lab{c1}{4723}{243}{1.00}{21}
\lab{c0}{4816}{243}{0.76}{21}
\lab{c0}{4728}{406}{0.99}{21}
\lab{c1}{4816}{406}{1.70}{42}
\lab{c1}{4681}{548}{1.26}{63}
\lab{c0}{5088}{162}{0.74}{21}
\lab{c0}{5055}{243}{0.65}{21}
\lab{c3}{5229}{100}{3.99}{63}
\lab{c1}{5295}{162}{1.32}{63}
\lab{c1}{5179}{243}{1.64}{63}
\lab{c1}{5231}{243}{1.02}{63}
\lab{c1}{5331}{243}{1.32}{63}
\lab{c1}{5029}{406}{1.41}{84}
\lab{c0}{5100}{406}{0.43}{84}
\lab{c0}{5189}{406}{0.42}{63}
\lab{c0}{5236}{406}{0.20}{63}
\lab{c0}{5315}{487}{0.23}{63}
\lab{c0}{5269}{548}{0.56}{294}
\lab{c0}{5437}{100}{0.51}{95}
\lab{c0}{5638}{100}{0.52}{121}
\lab{c0}{5833}{100}{0.86}{20}
\lab{c0}{5985}{100}{0.67}{4}
\lab{c1}{5833}{243}{1.13}{21}
\lab{c11}{634}{793}{10.96}{31}
\lab{c1}{904}{916}{1.51}{554}
\lab{c15}{757}{977}{15.32}{29}
\lab{c22}{1803}{671}{22.30}{8}
\lab{c1}{1325}{793}{1.53}{554}
\lab{c22}{1563}{793}{22.27}{6}
\lab{c5}{1376}{977}{5.17}{17}
\lab{c22}{1593}{915}{22.27}{6}
\lab{c3}{1651}{915}{3.62}{22}
\lab{c6}{1751}{915}{6.52}{543}
\lab{c1}{1978}{977}{1.57}{4}
\lab{c9}{1356}{1058}{9.90}{517}
\lab{c6}{1818}{1058}{6.49}{26}
\lab{c22}{1587}{1140}{22.20}{6}
\lab{c3}{1654}{1140}{3.62}{22}
\lab{c6}{1752}{1201}{6.49}{26}
\lab{c1}{614}{1058}{1.51}{554}
\lab{c1}{581}{1201}{1.42}{746}
\lab{c9}{877}{1201}{9.41}{517}
\lab{c0}{574}{1324}{0.62}{726}
\lab{c0}{849}{1324}{0.68}{517}
\lab{c8}{1175}{1324}{8.62}{517}
\lab{c15}{1393}{1324}{15.29}{26}
\lab{c6}{1663}{1324}{6.49}{26}
\lab{c3}{1843}{1324}{3.62}{22}
\lab{c0}{438}{1447}{0.53}{746}
\lab{c0}{584}{1447}{0.62}{726}
\lab{c0}{545}{1570}{0.66}{785}
\lab{c1}{481}{1692}{1.53}{2107}
\lab{c22}{4148}{671}{22.20}{6}
\end{tikzpicture}
\end{document}
